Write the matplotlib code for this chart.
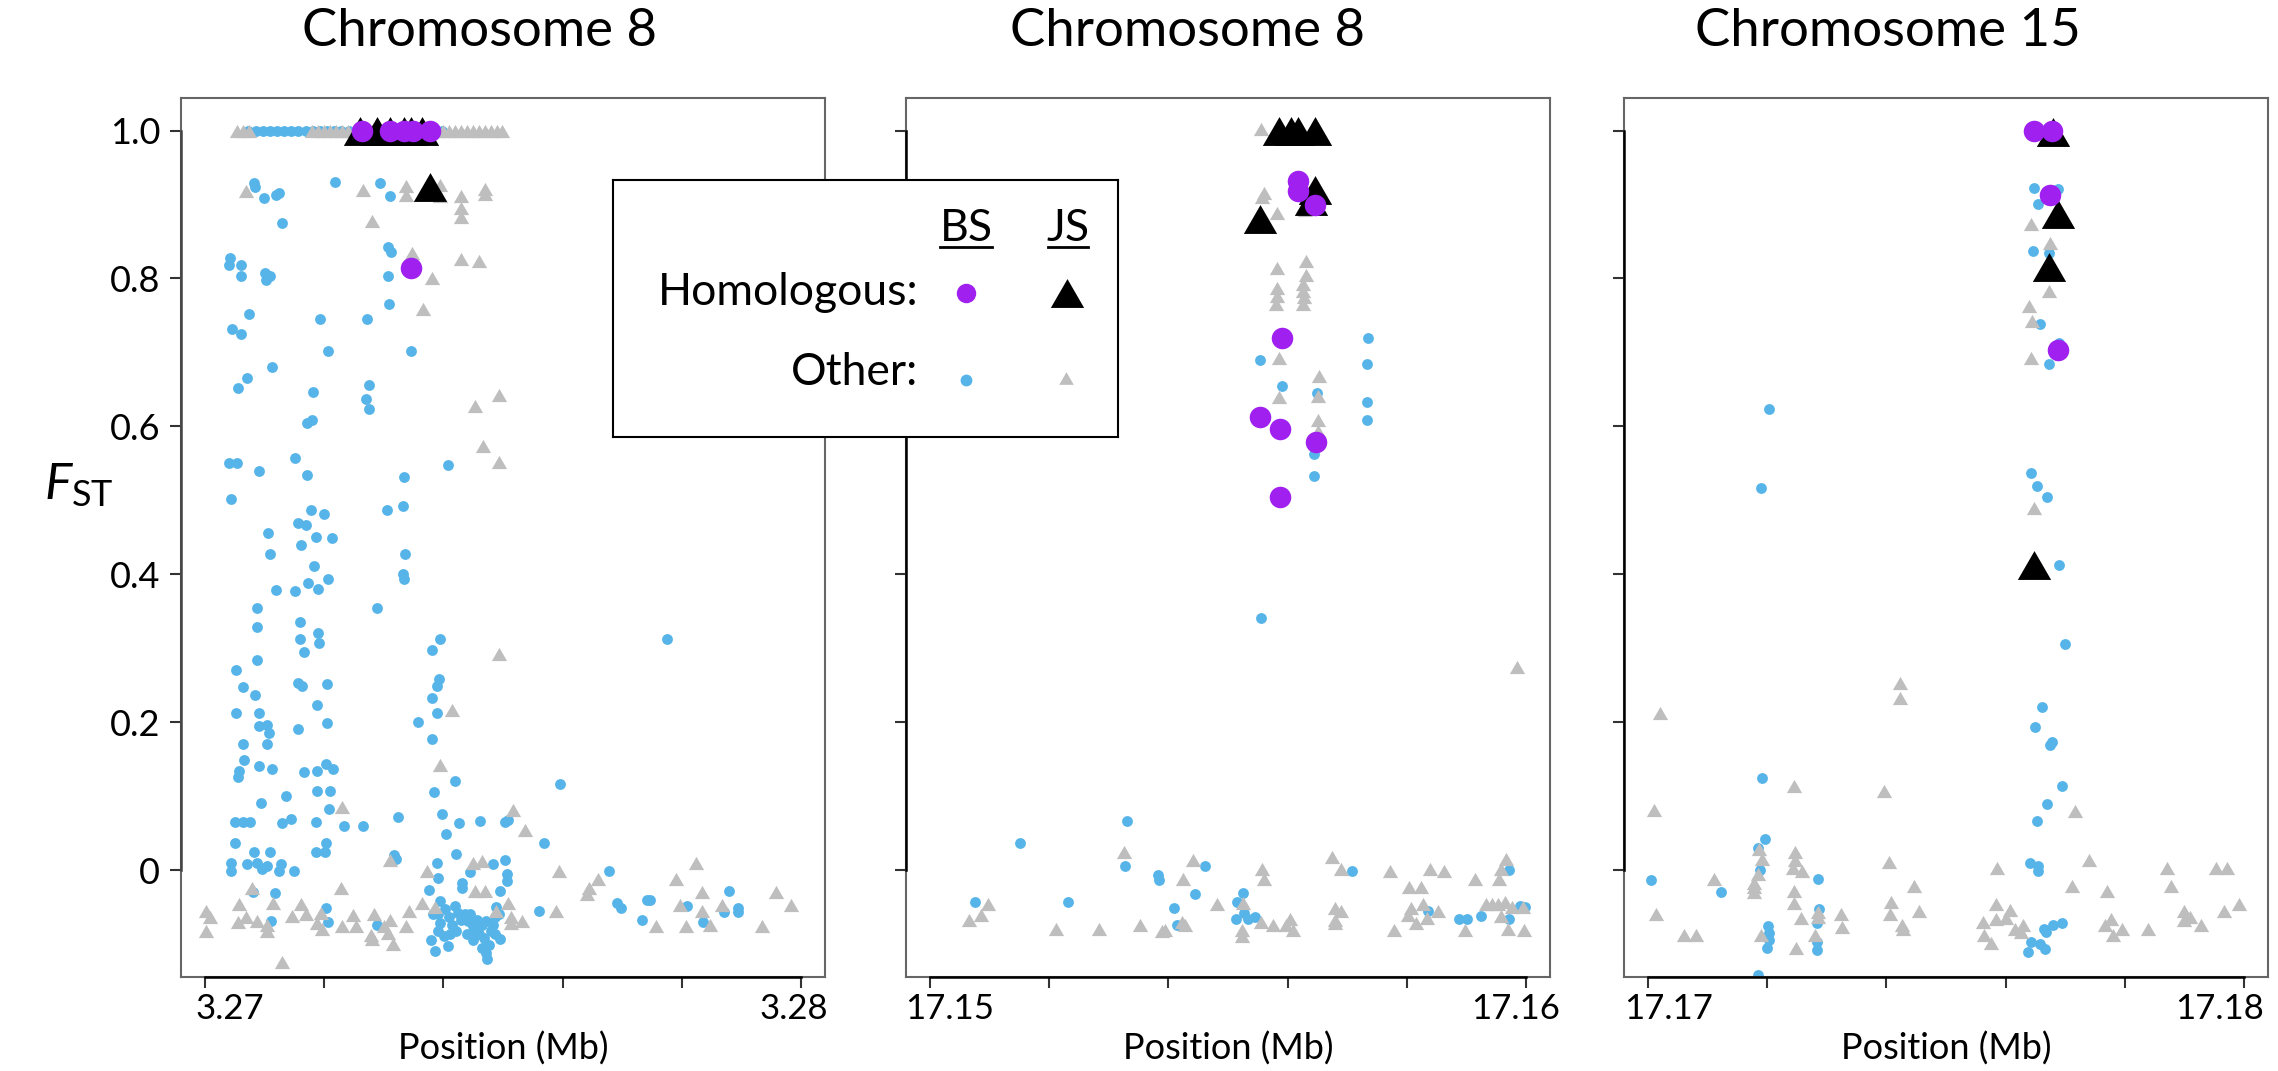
import matplotlib
matplotlib.use("Agg")
import matplotlib.pyplot as plt
from matplotlib.transforms import ScaledTranslation

# fuente parecida a Calibri
plt.rcParams['font.family'] = ['Lato', 'DejaVu Sans']
plt.rcParams['mathtext.fontset'] = 'custom'
plt.rcParams['mathtext.rm'] = 'Lato'
plt.rcParams['mathtext.it'] = 'Lato:italic'

# -----------------------------
# Datos: (posicion en Mb, FST)
# -----------------------------
titles = ["Chromosome 8", "Chromosome 8", "Chromosome 15"]
starts = [3.27, 17.15, 17.17]

# Panel 1 - Other BS (azul)
p1_other_bs = [
    (3.27073, 1.0), (3.27085, 1.0), (3.27097, 1.0), (3.27109, 1.0), (3.27121, 1.0), (3.27133, 1.0),
    (3.27145, 1.0), (3.27157, 1.0), (3.27169, 1.0), (3.27181, 1.0), (3.27193, 1.0), (3.27205, 1.0),
    (3.27217, 1.0), (3.27229, 1.0), (3.27241, 1.0), (3.27253, 1.0), (3.27265, 1.0), (3.27277, 1.0),
    (3.27289, 1.0), (3.27301, 1.0), (3.27313, 1.0), (3.27325, 1.0), (3.27337, 1.0), (3.27349, 1.0),
    (3.27361, 1.0), (3.27373, 1.0), (3.27385, 1.0), (3.27397, 1.0),
    (3.27082, 0.929), (3.27084, 0.923), (3.27100, 0.909), (3.27119, 0.913), (3.27125, 0.916),
    (3.27130, 0.875), (3.27219, 0.930), (3.27294, 0.929), (3.27311, 0.911), (3.27042, 0.827),
    (3.27041, 0.818), (3.27061, 0.818), (3.27060, 0.803), (3.27101, 0.807), (3.27103, 0.798),
    (3.27109, 0.803), (3.27307, 0.843), (3.27313, 0.836), (3.27307, 0.803), (3.27309, 0.765),
    (3.27074, 0.752), (3.27046, 0.731), (3.27061, 0.725), (3.27193, 0.745), (3.27272, 0.745),
    (3.27206, 0.702), (3.27346, 0.702), (3.27113, 0.680), (3.27070, 0.666), (3.27055, 0.652),
    (3.27182, 0.647), (3.27275, 0.656), (3.27271, 0.637), (3.27275, 0.623), (3.27171, 0.604),
    (3.27179, 0.608),
    (3.27041, 0.551), (3.27054, 0.551), (3.27091, 0.539), (3.27151, 0.557), (3.27171, 0.534),
    (3.27334, 0.532), (3.27407, 0.548), (3.27044, 0.502), (3.27305, 0.487), (3.27332, 0.492),
    (3.27178, 0.487), (3.27200, 0.482), (3.27156, 0.469), (3.27169, 0.466), (3.27106, 0.456),
    (3.27186, 0.450), (3.27213, 0.449), (3.27161, 0.440), (3.27109, 0.427), (3.27335, 0.427),
    (3.27183, 0.411), (3.27332, 0.400), (3.27334, 0.393), (3.27173, 0.388), (3.27206, 0.394),
    (3.27119, 0.378), (3.27151, 0.377), (3.27190, 0.380), (3.27088, 0.354), (3.27289, 0.354),
    (3.27087, 0.328), (3.27160, 0.335), (3.27190, 0.320), (3.27192, 0.307), (3.27160, 0.313),
    (3.27167, 0.295), (3.27395, 0.313), (3.27381, 0.298), (3.27775, 0.313), (3.27088, 0.284),
    (3.27052, 0.271), (3.27064, 0.248), (3.27084, 0.237), (3.27156, 0.253), (3.27163, 0.249),
    (3.27205, 0.251), (3.27393, 0.258), (3.27389, 0.249), (3.27381, 0.233), (3.27188, 0.223),
    (3.27052, 0.213), (3.27091, 0.213), (3.27389, 0.212), (3.27090, 0.195), (3.27104, 0.196),
    (3.27107, 0.185), (3.27157, 0.191), (3.27205, 0.199), (3.27357, 0.200), (3.27381, 0.177),
    (3.27064, 0.170), (3.27105, 0.170), (3.27065, 0.149), (3.27091, 0.140), (3.27113, 0.136),
    (3.27058, 0.134), (3.27056, 0.126), (3.27167, 0.132), (3.27188, 0.134), (3.27203, 0.143),
    (3.27215, 0.136), (3.27420, 0.120), (3.27596, 0.116), (3.27385, 0.105), (3.27188, 0.107),
    (3.27210, 0.107), (3.27094, 0.091), (3.27136, 0.100), (3.27208, 0.083), (3.27050, 0.065),
    (3.27064, 0.065), (3.27075, 0.065), (3.27130, 0.063), (3.27144, 0.069), (3.27187, 0.065),
    (3.27233, 0.059), (3.27266, 0.059), (3.27324, 0.072), (3.27397, 0.076), (3.27426, 0.063),
    (3.27462, 0.066), (3.27503, 0.065), (3.27509, 0.067), (3.27405, 0.049), (3.27568, 0.036),
    (3.27050, 0.036), (3.27082, 0.025), (3.27109, 0.024), (3.27186, 0.024), (3.27203, 0.036),
    (3.27202, 0.025), (3.27422, 0.021), (3.27318, 0.020), (3.27321, 0.015), (3.27504, 0.014),
    (3.27389, 0.010), (3.27071, 0.008), (3.27044, 0.010), (3.27044, -0.001), (3.27087, 0.010),
    (3.27096, 0.001), (3.27105, 0.005), (3.27127, 0.008), (3.27125, -0.002), (3.27150, -0.002),
    (3.27483, 0.008), (3.27678, -0.002), (3.27445, -0.003), (3.27506, -0.006), (3.27506, -0.015),
    (3.27391, -0.011), (3.27431, -0.017), (3.27431, -0.024), (3.27376, -0.027), (3.27495, -0.028),
    (3.27081, -0.030), (3.27117, -0.031), (3.27879, -0.029), (3.27395, -0.042), (3.27691, -0.044),
    (3.27698, -0.052), (3.27741, -0.041), (3.27746, -0.041), (3.27808, -0.049), (3.27894, -0.052),
    (3.27894, -0.057), (3.27870, -0.057), (3.27203, -0.052), (3.27560, -0.056), (3.27111, -0.069),
    (3.27207, -0.070), (3.27289, -0.074), (3.27733, -0.068), (3.27835, -0.070), (3.27495, -0.093),
    (3.27380, -0.095), (3.27407, -0.103), (3.27386, -0.109), (3.27473, -0.120),
    (3.27391, -0.060), (3.27395, -0.071), (3.27391, -0.083), (3.27402, -0.053), (3.27409, -0.064),
    (3.27414, -0.074), (3.27420, -0.049), (3.27424, -0.058), (3.27430, -0.067), (3.27422, -0.083),
    (3.27436, -0.060), (3.27441, -0.069), (3.27445, -0.059), (3.27449, -0.076), (3.27453, -0.083),
    (3.27456, -0.067), (3.27460, -0.087), (3.27464, -0.075), (3.27468, -0.092), (3.27472, -0.069),
    (3.27476, -0.101), (3.27480, -0.083), (3.27483, -0.074), (3.27487, -0.064), (3.27489, -0.050),
    (3.27493, -0.060), (3.27486, -0.087), (3.27401, -0.089), (3.27440, -0.087), (3.27472, -0.112),
    (3.27382, -0.060), (3.27411, -0.087), (3.27449, -0.094), (3.27464, -0.105),
]

# Panel 1 - Other JS (gris)
p1_other_js = [
    (3.27054, 1.0), (3.27064, 1.0), (3.27074, 1.0), (3.27180, 1.0), (3.27190, 1.0), (3.27200, 1.0),
    (3.27210, 1.0), (3.27220, 1.0), (3.27230, 1.0), (3.27240, 1.0), (3.27250, 1.0), (3.27260, 1.0),
    (3.27270, 1.0), (3.27280, 1.0), (3.27290, 1.0), (3.27300, 1.0), (3.27310, 1.0), (3.27320, 1.0),
    (3.27330, 1.0), (3.27340, 1.0), (3.27350, 1.0), (3.27360, 1.0), (3.27370, 1.0), (3.27380, 1.0),
    (3.27390, 1.0), (3.27400, 1.0), (3.27410, 1.0), (3.27420, 1.0), (3.27430, 1.0), (3.27440, 1.0),
    (3.27450, 1.0), (3.27460, 1.0), (3.27470, 1.0), (3.27480, 1.0), (3.27490, 1.0), (3.27499, 1.0),
    (3.27069, 0.918), (3.27266, 0.919), (3.27338, 0.925), (3.27338, 0.913), (3.27395, 0.927),
    (3.27395, 0.911), (3.27430, 0.911), (3.27430, 0.895), (3.27430, 0.883), (3.27470, 0.921),
    (3.27470, 0.914), (3.27280, 0.878), (3.27348, 0.834), (3.27430, 0.826), (3.27460, 0.823),
    (3.27381, 0.801), (3.27366, 0.758), (3.27493, 0.643), (3.27453, 0.628),
    (3.27466, 0.574), (3.27493, 0.552), (3.27493, 0.292), (3.27414, 0.217),
    (3.27395, 0.142), (3.27230, 0.085), (3.27517, 0.081), (3.27537, 0.054), (3.27311, 0.014),
    (3.27449, 0.009), (3.27464, 0.012), (3.27372, -0.001), (3.27594, -0.001), (3.27823, 0.010),
    (3.27660, -0.012), (3.27645, -0.024), (3.27641, -0.032), (3.27790, -0.012), (3.27833, -0.030),
    (3.27957, -0.030), (3.27983, -0.047), (3.27796, -0.047), (3.27867, -0.047), (3.27833, -0.056),
    (3.27847, -0.074), (3.27807, -0.076), (3.27757, -0.076), (3.27934, -0.076), (3.27228, -0.024),
    (3.27079, -0.024), (3.27453, -0.029), (3.27470, -0.029), (3.27057, -0.046), (3.27114, -0.044),
    (3.27161, -0.046), (3.27509, -0.044), (3.27002, -0.056), (3.27009, -0.064), (3.27002, -0.082),
    (3.27056, -0.070), (3.27069, -0.064), (3.27088, -0.069), (3.27104, -0.074), (3.27104, -0.082),
    (3.27146, -0.062), (3.27169, -0.060), (3.27194, -0.058), (3.27188, -0.071), (3.27196, -0.080),
    (3.27230, -0.076), (3.27249, -0.061), (3.27253, -0.076), (3.27284, -0.059), (3.27279, -0.088),
    (3.27280, -0.093), (3.27301, -0.076), (3.27310, -0.068), (3.27307, -0.085), (3.27315, -0.100),
    (3.27338, -0.076), (3.27343, -0.056), (3.27365, -0.044), (3.27386, -0.050), (3.27489, -0.056),
    (3.27514, -0.063), (3.27532, -0.069), (3.27514, -0.071), (3.27589, -0.056), (3.27130, -0.124),
]

p1_homol_js = [(3.27261, 1.0), (3.27288, 1.0), (3.27311, 1.0), (3.27334, 1.0), (3.27345, 1.0),
               (3.27365, 1.0), (3.27378, 0.923)]
p1_homol_bs = [(3.27263, 1.0), (3.27311, 1.0), (3.27334, 1.0), (3.27349, 1.0), (3.27378, 1.0),
               (3.27345, 0.814)]

# Panel 2
p2_other_bs = [
    (17.15734, 0.720), (17.15733, 0.684), (17.15733, 0.633), (17.15733, 0.608), (17.15554, 0.690),
    (17.15591, 0.655), (17.15650, 0.645), (17.15644, 0.562), (17.15644, 0.533),
    (17.15556, 0.341), (17.15330, 0.066), (17.15151, 0.037), (17.15328, 0.006), (17.15461, 0.006),
    (17.15383, -0.007), (17.15384, -0.014), (17.15708, -0.001), (17.15972, 0.000), (17.15076, -0.043),
    (17.15231, -0.043), (17.15445, -0.033), (17.15525, -0.031), (17.15515, -0.043), (17.15409, -0.051),
    (17.15414, -0.075), (17.15527, -0.058), (17.15513, -0.066), (17.15534, -0.066), (17.15546, -0.064),
    (17.15836, -0.055), (17.15887, -0.066), (17.15900, -0.066), (17.15925, -0.062), (17.15972, -0.066),
    (17.15989, -0.048), (17.15998, -0.050),
]
p2_other_js = [
    (17.15555, 1.002), (17.15560, 0.916), (17.15557, 0.910), (17.15583, 0.888), (17.15629, 0.893),
    (17.15582, 0.814), (17.15631, 0.823), (17.15631, 0.805), (17.15583, 0.787), (17.15583, 0.776),
    (17.15581, 0.766), (17.15625, 0.792), (17.15625, 0.783), (17.15627, 0.775), (17.15625, 0.766),
    (17.15585, 0.692), (17.15653, 0.668), (17.15651, 0.641), (17.15586, 0.640), (17.15651, 0.609),
    (17.15651, 0.594),
    (17.15985, 0.274), (17.15326, 0.024), (17.15442, 0.013), (17.15557, 0.002), (17.15561, -0.012),
    (17.15425, -0.012), (17.15674, 0.018), (17.15690, 0.002), (17.15771, -0.001), (17.15838, 0.002),
    (17.15863, -0.001), (17.15966, 0.015), (17.15957, 0.002), (17.15954, -0.012), (17.15915, -0.012),
    (17.15803, -0.023), (17.15824, -0.023), (17.15098, -0.046), (17.15086, -0.061), (17.15066, -0.067),
    (17.15212, -0.080), (17.15283, -0.080), (17.15353, -0.075), (17.15390, -0.083), (17.15395, -0.081),
    (17.15423, -0.070), (17.15428, -0.075), (17.15481, -0.046), (17.15525, -0.044), (17.15523, -0.081),
    (17.15523, -0.089), (17.15556, -0.070), (17.15576, -0.075), (17.15597, -0.075), (17.15604, -0.066),
    (17.15609, -0.081), (17.15680, -0.052), (17.15690, -0.055), (17.15680, -0.067), (17.15680, -0.072),
    (17.15778, -0.081), (17.15807, -0.052), (17.15802, -0.061), (17.15815, -0.071), (17.15827, -0.046),
    (17.15833, -0.065), (17.15852, -0.055), (17.15897, -0.081), (17.15932, -0.046), (17.15942, -0.046),
    (17.15952, -0.046), (17.15965, -0.043), (17.15977, -0.050), (17.15957, -0.062), (17.15970, -0.080),
    (17.15996, -0.081), (17.15994, -0.050),
]
p2_homol_js = [(17.15585, 1.0), (17.15605, 1.0), (17.15618, 1.0), (17.15646, 1.0),
               (17.15646, 0.920), (17.15640, 0.905), (17.15553, 0.880)]
p2_homol_bs = [(17.15618, 0.932), (17.15618, 0.918), (17.15646, 0.899), (17.15590, 0.719),
               (17.15553, 0.612), (17.15588, 0.596), (17.15648, 0.579), (17.15587, 0.504)]

# Panel 3
p3_other_bs = [
    (17.17647, 0.922), (17.17687, 0.921), (17.17654, 0.901), (17.17646, 0.837), (17.17672, 0.835),
    (17.17657, 0.738), (17.17689, 0.713), (17.17672, 0.684), (17.17203, 0.623), (17.17189, 0.516),
    (17.17643, 0.537), (17.17652, 0.519), (17.17670, 0.504),
    (17.17690, 0.412), (17.17700, 0.305), (17.17661, 0.220), (17.17650, 0.193), (17.17677, 0.173),
    (17.17674, 0.169), (17.17695, 0.114), (17.17670, 0.089), (17.17652, 0.066), (17.17641, 0.009),
    (17.17655, 0.005), (17.17655, -0.001), (17.17191, 0.124), (17.17196, 0.042), (17.17184, 0.030),
    (17.17188, 0.000), (17.17006, -0.013), (17.17123, -0.030), (17.17285, -0.012), (17.17287, -0.053),
    (17.17284, -0.072), (17.17284, -0.098), (17.17284, -0.108), (17.17201, -0.076), (17.17204, -0.085),
    (17.17203, -0.094), (17.17199, -0.106), (17.17184, -0.142), (17.17695, -0.071), (17.17679, -0.075),
    (17.17665, -0.080), (17.17668, -0.084), (17.17643, -0.098), (17.17657, -0.100), (17.17666, -0.107),
    (17.17638, -0.111),
]
p3_other_js = [
    (17.17642, 0.874), (17.17674, 0.848), (17.17672, 0.783), (17.17639, 0.763), (17.17645, 0.743),
    (17.17643, 0.692), (17.17648, 0.490),
    (17.17423, 0.253), (17.17423, 0.233), (17.17020, 0.212), (17.17245, 0.113), (17.17396, 0.107),
    (17.17010, 0.081), (17.17717, 0.080), (17.17186, 0.028), (17.17246, 0.025), (17.17246, 0.013),
    (17.17192, 0.015), (17.17405, 0.011), (17.17740, 0.013), (17.17586, 0.003), (17.17871, 0.003),
    (17.17953, 0.003), (17.17971, 0.003), (17.17243, 0.003), (17.17259, -0.002), (17.17184, -0.005),
    (17.17111, -0.012), (17.17178, -0.017), (17.17178, -0.023), (17.17178, -0.030), (17.17245, -0.028),
    (17.17446, -0.022), (17.17711, -0.022), (17.17770, -0.029), (17.17878, -0.022), (17.17245, -0.044),
    (17.17408, -0.043), (17.17584, -0.046), (17.17607, -0.054), (17.17992, -0.046), (17.17014, -0.060),
    (17.17285, -0.057), (17.17324, -0.060), (17.17406, -0.060), (17.17455, -0.056), (17.17899, -0.056),
    (17.17967, -0.056), (17.17256, -0.065), (17.17285, -0.064), (17.17562, -0.070), (17.17584, -0.066),
    (17.17600, -0.065), (17.17629, -0.074), (17.17616, -0.080), (17.17625, -0.084), (17.17766, -0.074),
    (17.17776, -0.066), (17.17910, -0.063), (17.17899, -0.067), (17.17928, -0.074), (17.17326, -0.077),
    (17.17427, -0.075), (17.17428, -0.080), (17.17795, -0.080), (17.17839, -0.080), (17.17780, -0.088),
    (17.17060, -0.088), (17.17080, -0.088), (17.17189, -0.088), (17.17280, -0.088), (17.17563, -0.088),
    (17.17575, -0.099), (17.17249, -0.105),
]
p3_homol_js = [(17.17679, 0.998), (17.17687, 0.887), (17.17673, 0.815), (17.17647, 0.413)]
p3_homol_bs = [(17.17647, 1.0), (17.17677, 1.0), (17.17674, 0.913), (17.17688, 0.703)]

panels = [
    (p1_other_bs, p1_other_js, p1_homol_js, p1_homol_bs),
    (p2_other_bs, p2_other_js, p2_homol_js, p2_homol_bs),
    (p3_other_bs, p3_other_js, p3_homol_js, p3_homol_bs),
]

# -----------------------------
# Estilo
# -----------------------------
BLUE = '#56B4E9'
GRAY = '#BEBEBE'
PURPLE = '#A020F0'
BLACK = '#000000'
TRI = [(-1, -0.866), (1, -0.866), (0, 0.866)]  # triangulo equilatero como pch 17

W, H = 2278, 1071
fig = plt.figure(figsize=(W / 100, H / 100), dpi=100)

lefts = [181, 906, 1624]
ax_w = 644
ax_top, ax_bot = 98, 976.5
title_x = [480, 1188, 1888]
# desplazamiento (px) de las etiquetas extremas del eje x
lab_shift = [(25, -7), (20, -11), (21, -25)]

for i, (bs, js, hjs, hbs) in enumerate(panels):
    ax = fig.add_axes([lefts[i] / W, 1 - ax_bot / H, ax_w / W, (ax_bot - ax_top) / H])
    ax.plot([p[0] for p in bs], [p[1] for p in bs], 'o', color=BLUE, ms=7.8, mew=0, zorder=2)
    ax.plot([p[0] for p in js], [p[1] for p in js], marker=TRI, ls='none', color=GRAY, ms=11, mew=0, zorder=3)
    ax.plot([p[0] for p in hjs], [p[1] for p in hjs], marker=TRI, ls='none', color=BLACK, ms=24, mew=0, zorder=4)
    ax.plot([p[0] for p in hbs], [p[1] for p in hbs], 'o', color=PURPLE, ms=15.5, mew=0, zorder=5)

    s = starts[i]
    ax.set_xlim(s - 0.0004, s + 0.0104)
    ax.set_ylim(-0.144, 1.044)
    xt = [s + k * 0.002 for k in range(6)]
    ax.set_xticks(xt)
    ax.set_xticklabels([f"{s:.2f}", "", "", "", "", f"{s + 0.01:.2f}"], fontsize=25)
    ax.set_yticks([0, 0.2, 0.4, 0.6, 0.8, 1.0])
    if i == 0:
        ax.set_yticklabels(["0", "0.2", "0.4", "0.6", "0.8", "1.0"], fontsize=26)
    else:
        ax.set_yticklabels([])
    ax.tick_params(axis='both', direction='out', length=8, width=1.5, color='#333333')
    ax.tick_params(axis='x', pad=4)
    ax.tick_params(axis='y', pad=7)
    # las etiquetas extremas van un poco hacia dentro
    labs = ax.get_xticklabels()
    labs[0].set_transform(labs[0].get_transform() + ScaledTranslation(lab_shift[i][0] / 100, 0, fig.dpi_scale_trans))
    labs[-1].set_transform(labs[-1].get_transform() + ScaledTranslation(lab_shift[i][1] / 100, 0, fig.dpi_scale_trans))
    for sp in ax.spines.values():
        sp.set_color('#666666')
        sp.set_linewidth(1.5)
    # linea de eje negra entre el primer y ultimo tick (como axis() de R)
    ax.plot([xt[0], xt[-1]], [0, 0], color='black', lw=1.8, clip_on=False,
            transform=ax.get_xaxis_transform(), zorder=6)
    ax.plot([0, 0], [0, 1.0], color='black' if i > 0 else '#444444', lw=1.8, clip_on=False,
            transform=ax.get_yaxis_transform(), zorder=6)

    fig.text(title_x[i] / W, 1 - 31 / H, titles[i], fontsize=38, ha='center', va='center')
    fig.text((lefts[i] + ax_w / 2) / W, 1 - 1049 / H, "Position (Mb)", fontsize=26,
             ha='center', va='center')

# etiqueta del eje Y
fig.text(44 / W, 1 - 499 / H, r'$F_{\mathrm{ST}}$', fontsize=37, ha='left', va='baseline')

# -----------------------------
# Leyenda (caja dibujada a mano)
# -----------------------------
lx, ly, lw_, lh = 613, 180, 505, 257
lg = fig.add_axes([lx / W, 1 - (ly + lh) / H, lw_ / W, lh / H])
lg.set_xlim(0, lw_)
lg.set_ylim(lh, 0)
lg.set_xticks([])
lg.set_yticks([])
lg.set_facecolor('white')
for sp in lg.spines.values():
    sp.set_color('black')
    sp.set_linewidth(1.5)

lg.text(353, 61, "BS", fontsize=32, ha='center', va='baseline')
lg.text(455, 61, "JS", fontsize=32, ha='center', va='baseline')
lg.plot([327, 379], [67, 67], color='black', lw=2)
lg.plot([435, 475], [67, 67], color='black', lw=2)
lg.text(305, 125, "Homologous:", fontsize=32, ha='right', va='baseline')
lg.text(305, 205, "Other:", fontsize=32, ha='right', va='baseline')
lg.plot([353], [113], 'o', color=PURPLE, ms=14, mew=0)
lg.plot([454], [113], marker=TRI, ls='none', color=BLACK, ms=24, mew=0)
lg.plot([353], [200], 'o', color=BLUE, ms=8.5, mew=0)
lg.plot([453], [198], marker=TRI, ls='none', color=GRAY, ms=10.5, mew=0)

fig.savefig('out.png', dpi=100)
